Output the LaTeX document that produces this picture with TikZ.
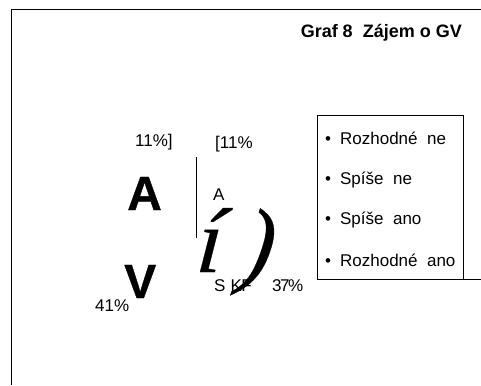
\documentclass[tikz,border=0pt]{standalone}
\usepackage{fontspec}
\setmainfont{Liberation Sans}
\newfontfamily\heavy[BoldFeatures={FakeBold=0.7}]{Liberation Sans}
\newfontfamily\serifit[ItalicFeatures={FakeBold=0.3}]{Liberation Serif}
\tikzset{
 lbl/.style={inner sep=0pt,anchor=base west,font=\fontsize{17}{19}\selectfont},
 big/.style={inner sep=0pt,anchor=base west,font=\fontsize{48}{50}\heavy\bfseries},
 huge/.style={inner sep=0pt,anchor=base west,font=\fontsize{92}{96}\serifit\itshape},
 rule/.style={draw=black,line width=1pt}
}
\begin{document}
\begin{tikzpicture}[x=1pt,y=-1pt]
\useasboundingbox (0,0) rectangle (481,385);
\coordinate (tl) at (11,9.5);
\coordinate (tr) at (481,9.5);
\coordinate (bl) at (11,385);
\draw[rule] (tr) -- (tl) -- (bl);
\node[inner sep=0pt,anchor=base east,font=\fontsize{18}{20}\selectfont\bfseries] (title) at (462,38) {Graf 8\ \ Zájem o GV};
\node[lbl] (p1) at (135,146) {11\%]};
\node[lbl] (p2) at (215,148) {[11\%};
\node[lbl] (p3) at (95,311) {41\%};
\node[lbl] (p4) at (272,291) {3\kern-1.5pt 7\kern-1.5pt\%};
\node[big] (bA) at (127,210) {A};
\node[big] (bV) at (124,298) {V};
\node[lbl] (sA) at (213,200) {A};
\node[lbl] (skf) at (214,291) {S\kern5pt K\kern-0.5pt F};
\coordinate (va) at (196.7,157);
\coordinate (vb) at (196.7,238);
\draw[rule] (va) -- (vb);
\node[huge,xslant=0.08] (ii) at (195,272) {í};
\node[huge,xslant=0.17,font=\fontsize{96}{100}\serifit\itshape] (pp) at (238,275) {)};
\coordinate (b1) at (317.5,115);
\coordinate (b2) at (463.5,115);
\coordinate (b3) at (463.5,279);
\coordinate (b4) at (317.5,279);
\coordinate (b5) at (481,279);
\draw[rule] (b3) -- (b2) -- (b1) -- (b4) -- (b5);
\node[lbl] (l1) at (325,144) {•\kern9pt Rozhodné\ \ ne};
\node[lbl] (l2) at (325,184) {•\kern9pt Spíše\ \ ne};
\node[lbl] (l3) at (325,224.5) {•\kern9pt Spíše\ \ ano};
\node[lbl] (l4) at (325,266) {•\kern9pt Rozhodné\ \ ano};
\end{tikzpicture}
\end{document}
